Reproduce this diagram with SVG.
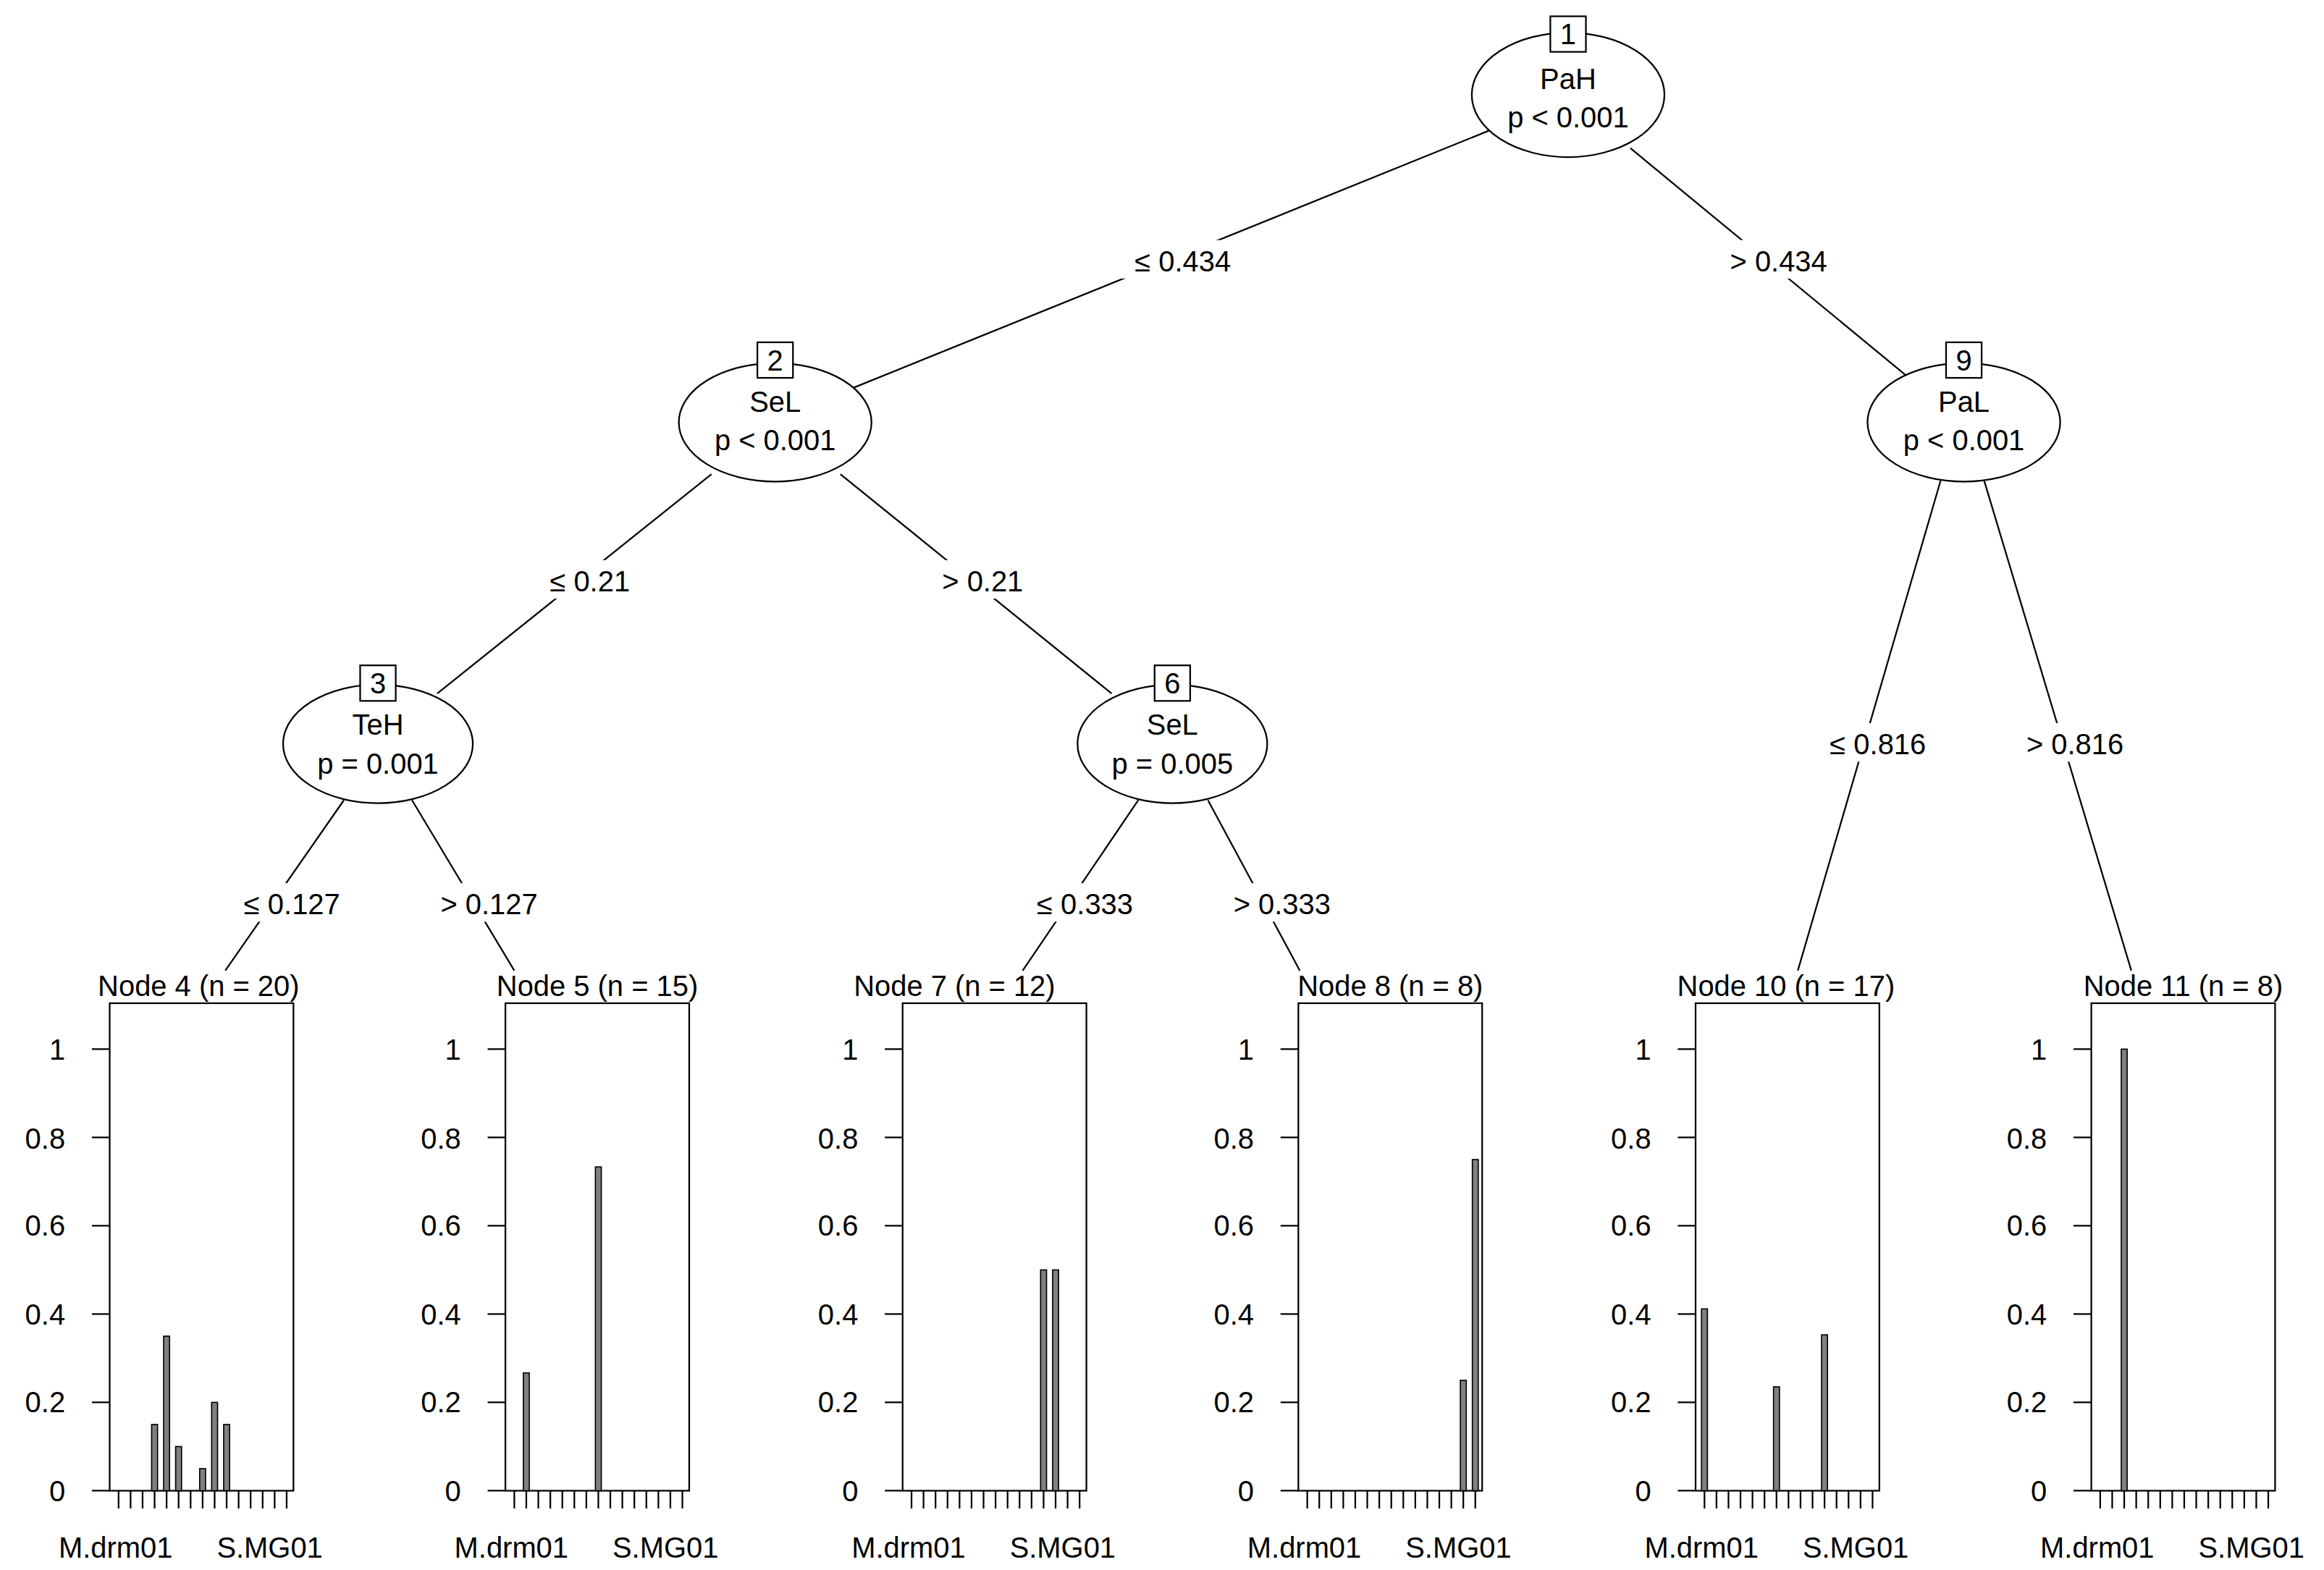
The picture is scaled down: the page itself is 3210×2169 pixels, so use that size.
<svg xmlns="http://www.w3.org/2000/svg" width="3210" height="2169" viewBox="0 0 3210 2169">
<style>
text{font-family:"Liberation Sans",Arial,sans-serif;font-size:19.5px;fill:#000}
.m{text-anchor:middle}.e{text-anchor:end}
.l{stroke:#000;stroke-width:1.1;fill:none}
.n{stroke:#000;stroke-width:1.1;fill:#fff}
.b{stroke:#000;stroke-width:0.8;fill:#808080}
</style>
<defs>
<g id="axis">
<rect class="l" x="0" y="677" width="124" height="329"/>
<path class="l" d="M-12 708H0M-12 767.6H0M-12 827.2H0M-12 886.8H0M-12 946.4H0M-12 1006H0"/>
<text class="e" x="-30" y="715">1</text>
<text class="e" x="-30" y="775">0.8</text>
<text class="e" x="-30" y="834">0.6</text>
<text class="e" x="-30" y="894">0.4</text>
<text class="e" x="-30" y="953">0.2</text>
<text class="e" x="-30" y="1013">0</text>
<path class="l" d="M6 1006v12M14.1 1006v12M22.2 1006v12M30.3 1006v12M38.4 1006v12M46.5 1006v12M54.6 1006v12M62.7 1006v12M70.8 1006v12M78.9 1006v12M87 1006v12M95.1 1006v12M103.2 1006v12M111.3 1006v12M119.4 1006v12"/>
<text class="m" x="4" y="1051">M.drm01</text>
<text class="m" x="108" y="1051">S.MG01</text>
</g>
</defs>
<rect width="3210" height="2169" fill="#fff"/>
<g transform="scale(2.0472)">
<g id="connectors" class="l">
<path class="l" d="M1005 88L575 262M1100 100L1288 255M480 320L295 468M567 320L750 468M1310 322L1213 655M1338 322L1438 655M232 540L152 655M278 540L347 655M768 540L690 655M815 540L877 655"/>
</g>
<g id="edge-labels">
<rect x="755" y="162" width="86" height="26" fill="#fff"/><text class="m" x="798" y="183">≤ 0.434</text>
<rect x="1157" y="162" width="86" height="26" fill="#fff"/><text class="m" x="1200" y="183">&gt; 0.434</text>
<rect x="362" y="378" width="72" height="26" fill="#fff"/><text class="m" x="398" y="399">≤ 0.21</text>
<rect x="627" y="378" width="72" height="26" fill="#fff"/><text class="m" x="663" y="399">&gt; 0.21</text>
<rect x="1224" y="488" width="86" height="26" fill="#fff"/><text class="m" x="1267" y="509">≤ 0.816</text>
<rect x="1357" y="488" width="86" height="26" fill="#fff"/><text class="m" x="1400" y="509">&gt; 0.816</text>
<rect x="154" y="596" width="86" height="26" fill="#fff"/><text class="m" x="197" y="617">≤ 0.127</text>
<rect x="287" y="596" width="86" height="26" fill="#fff"/><text class="m" x="330" y="617">&gt; 0.127</text>
<rect x="689" y="596" width="86" height="26" fill="#fff"/><text class="m" x="732" y="617">≤ 0.333</text>
<rect x="822" y="596" width="86" height="26" fill="#fff"/><text class="m" x="865" y="617">&gt; 0.333</text>
</g>
<g id="node1"><ellipse class="n" cx="1058" cy="64" rx="65" ry="42"/><rect class="n" x="1046" y="11" width="24" height="24"/><text class="m" x="1058" y="30">1</text><text class="m" x="1058" y="60">PaH</text><text class="m" x="1058" y="86">p &lt; 0.001</text></g>
<g id="node2"><ellipse class="n" cx="523" cy="285" rx="65" ry="40"/><rect class="n" x="511" y="231" width="24" height="24"/><text class="m" x="523" y="250">2</text><text class="m" x="523" y="278">SeL</text><text class="m" x="523" y="304">p &lt; 0.001</text></g>
<g id="node9"><ellipse class="n" cx="1325" cy="285" rx="65" ry="40"/><rect class="n" x="1313" y="231" width="24" height="24"/><text class="m" x="1325" y="250">9</text><text class="m" x="1325" y="278">PaL</text><text class="m" x="1325" y="304">p &lt; 0.001</text></g>
<g id="node3"><ellipse class="n" cx="255" cy="502" rx="64" ry="40"/><rect class="n" x="243" y="449" width="24" height="24"/><text class="m" x="255" y="468">3</text><text class="m" x="255" y="496">TeH</text><text class="m" x="255" y="522">p = 0.001</text></g>
<g id="node6"><ellipse class="n" cx="791" cy="502" rx="64" ry="40"/><rect class="n" x="779" y="449" width="24" height="24"/><text class="m" x="791" y="468">6</text><text class="m" x="791" y="496">SeL</text><text class="m" x="791" y="522">p = 0.005</text></g>
<g id="node4" transform="translate(74 0)"><use href="#axis"/><text class="m" x="60" y="672">Node 4 (n = 20)</text>
<rect class="b" x="28.3" y="961.3" width="4" height="44.7"/><rect class="b" x="36.4" y="901.7" width="4" height="104.3"/><rect class="b" x="44.5" y="976.2" width="4" height="29.8"/><rect class="b" x="60.7" y="991.1" width="4" height="14.9"/><rect class="b" x="68.8" y="946.4" width="4" height="59.6"/><rect class="b" x="76.9" y="961.3" width="4" height="44.7"/></g>
<g id="node5" transform="translate(341 0)"><use href="#axis"/><text class="m" x="62" y="672">Node 5 (n = 15)</text>
<rect class="b" x="12.1" y="926.5" width="4" height="79.5"/><rect class="b" x="60.7" y="787.5" width="4" height="218.5"/></g>
<g id="node7" transform="translate(609 0)"><use href="#axis"/><text class="m" x="35" y="672">Node 7 (n = 12)</text>
<rect class="b" x="93.1" y="857" width="4" height="149"/><rect class="b" x="101.2" y="857" width="4" height="149"/></g>
<g id="node8" transform="translate(876 0)"><use href="#axis"/><text class="m" x="62" y="672">Node 8 (n = 8)</text>
<rect class="b" x="109.3" y="931.5" width="4" height="74.5"/><rect class="b" x="117.4" y="782.5" width="4" height="223.5"/></g>
<g id="node10" transform="translate(1144 0)"><use href="#axis"/><text class="m" x="61" y="672">Node 10 (n = 17)</text>
<rect class="b" x="4" y="883.3" width="4" height="122.7"/><rect class="b" x="52.6" y="935.9" width="4" height="70.1"/><rect class="b" x="85" y="900.8" width="4" height="105.2"/></g>
<g id="node11" transform="translate(1411 0)"><use href="#axis"/><text class="m" x="62" y="672">Node 11 (n = 8)</text>
<rect class="b" x="20.2" y="708" width="4" height="298"/></g>
</g>
</svg>
